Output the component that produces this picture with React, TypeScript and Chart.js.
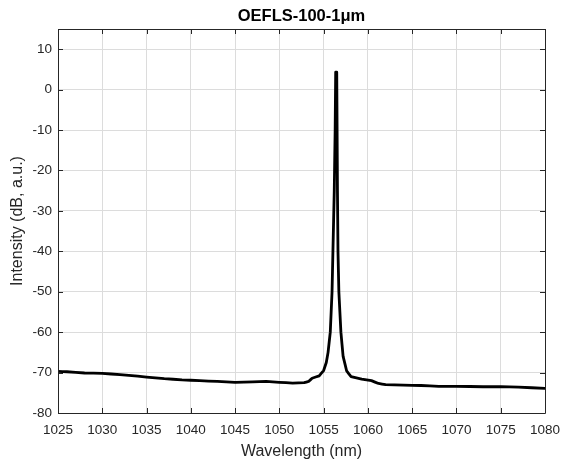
import React, { useEffect, useRef } from "react";
import { Chart, registerables } from "chart.js";

Chart.register(...registerables);

const chartTitle = "OEFLS-100-1μm";
const xAxisTitle = "Wavelength (nm)";
const yAxisTitle = "Intensity (dB, a.u.)";

const wavelengths: number[] = [
  1025, 1026, 1028, 1030, 1032, 1034, 1035, 1037, 1039, 1041, 1043, 1045,
  1047, 1048.5, 1050, 1051.5, 1052.8, 1053.3, 1053.7, 1054.5, 1055, 1055.3,
  1055.5, 1055.75, 1055.95, 1056.05, 1056.2, 1056.3, 1056.36, 1056.48,
  1056.52, 1056.56, 1056.62, 1056.72, 1056.95, 1057.2, 1057.6, 1058.1, 1059.3,
  1060.4, 1061.2, 1062, 1064, 1066, 1068, 1070, 1073, 1075, 1077, 1080,
];
const intensities: number[] = [
  -69.7, -69.8, -70.1, -70.2, -70.5, -70.9, -71.1, -71.5, -71.8, -72.0, -72.2,
  -72.4, -72.3, -72.2, -72.4, -72.6, -72.5, -72.2, -71.4, -70.8, -69.5, -67.5,
  -65, -60, -50, -40, -25, -10, 4.3, 4.3, -10, -25, -40, -50, -60, -66, -69.6,
  -71.0, -71.6, -72.0, -72.7, -73.0, -73.1, -73.2, -73.4, -73.4, -73.5, -73.5,
  -73.6, -73.9,
];

const xMin = 1025;
const xMax = 1080;
const xStep = 5;
const yMin = -80;
const yMax = 15;
const yStep = 10;

const axisColor = "#262626";
const gridColor = "#dcdcdc";
const fontFamily = "'Liberation Sans', Arial, Helvetica, sans-serif";

const innerTicksPlugin = {
  id: "innerTicks",
  afterDraw(chart: any) {
    const { ctx, chartArea, scales } = chart;
    const { left, right, top, bottom } = chartArea;
    const len = 5;
    ctx.save();
    ctx.strokeStyle = axisColor;
    ctx.lineWidth = 1;
    ctx.beginPath();
    ctx.rect(Math.round(left) + 0.5, Math.round(top) + 0.5, Math.round(right - left), Math.round(bottom - top));
    ctx.stroke();
    ctx.beginPath();
    scales.x.ticks.forEach((t: any) => {
      const px = Math.round(scales.x.getPixelForValue(t.value)) + 0.5;
      ctx.moveTo(px, bottom);
      ctx.lineTo(px, bottom - len);
      ctx.moveTo(px, top);
      ctx.lineTo(px, top + len);
    });
    scales.y.ticks.forEach((t: any) => {
      const py = Math.round(scales.y.getPixelForValue(t.value)) + 0.5;
      ctx.moveTo(left, py);
      ctx.lineTo(left + len, py);
      ctx.moveTo(right, py);
      ctx.lineTo(right - len, py);
    });
    ctx.stroke();
    ctx.restore();
  },
};

export default function App() {
  const canvasRef = useRef<HTMLCanvasElement | null>(null);

  useEffect(() => {
    if (!canvasRef.current) return;
    const points = wavelengths.map((w, i) => ({ x: w, y: intensities[i] }));
    const chart = new Chart(canvasRef.current, {
      type: "line",
      data: {
        datasets: [
          {
            data: points,
            borderColor: "#000000",
            borderWidth: 2.8,
            borderJoinStyle: "round",
            borderCapStyle: "round",
            pointRadius: 0,
            tension: 0.0001,
            fill: false,
          },
        ],
      },
      options: {
        animation: false,
        responsive: false,
        devicePixelRatio: 1,
        layout: { padding: { left: 0, right: 18, top: 0, bottom: 0 } },
        plugins: {
          legend: { display: false },
          tooltip: { enabled: false },
          title: {
            display: true,
            text: chartTitle,
            color: "#000000",
            fullSize: false,
            font: { family: fontFamily, size: 16.5, weight: "bold" },
            padding: { top: 7, bottom: 2.2 },
          },
        },
        scales: {
          x: {
            type: "linear",
            min: xMin,
            max: xMax,
            afterFit: (scale: any) => {
              scale.height = 52;
              scale.paddingLeft = 0;
              scale.paddingRight = 0;
            },
            ticks: {
              stepSize: xStep,
              includeBounds: false,
              color: axisColor,
              font: { family: fontFamily, size: 13.5 },
              padding: 9,
              maxRotation: 0,
              callback: (v: any) => String(v),
            },
            grid: { color: gridColor, drawTicks: false, lineWidth: 1 },
            border: { display: false },
            title: {
              display: true,
              text: xAxisTitle,
              color: axisColor,
              font: { family: fontFamily, size: 16 },
              padding: { top: 0, bottom: 4 },
            },
          },
          y: {
            type: "linear",
            min: yMin,
            max: yMax,
            afterFit: (scale: any) => {
              scale.width = 58;
              scale.paddingTop = 0;
              scale.paddingBottom = 0;
            },
            ticks: {
              stepSize: yStep,
              includeBounds: false,
              color: axisColor,
              font: { family: fontFamily, size: 13.5 },
              padding: 6,
              callback: (v: any) => String(v),
            },
            grid: { color: gridColor, drawTicks: false, lineWidth: 1 },
            border: { display: false },
            title: {
              display: true,
              text: yAxisTitle,
              color: axisColor,
              font: { family: fontFamily, size: 16 },
              padding: { top: 8, bottom: 0 },
            },
          },
        },
      },
      plugins: [innerTicksPlugin],
    });
    return () => chart.destroy();
  }, []);

  return (
    <div style={{ position: "absolute", left: 0, top: 0, width: 563, height: 465, background: "#ffffff" }}>
      <canvas ref={canvasRef} width={563} height={465} />
    </div>
  );
}
